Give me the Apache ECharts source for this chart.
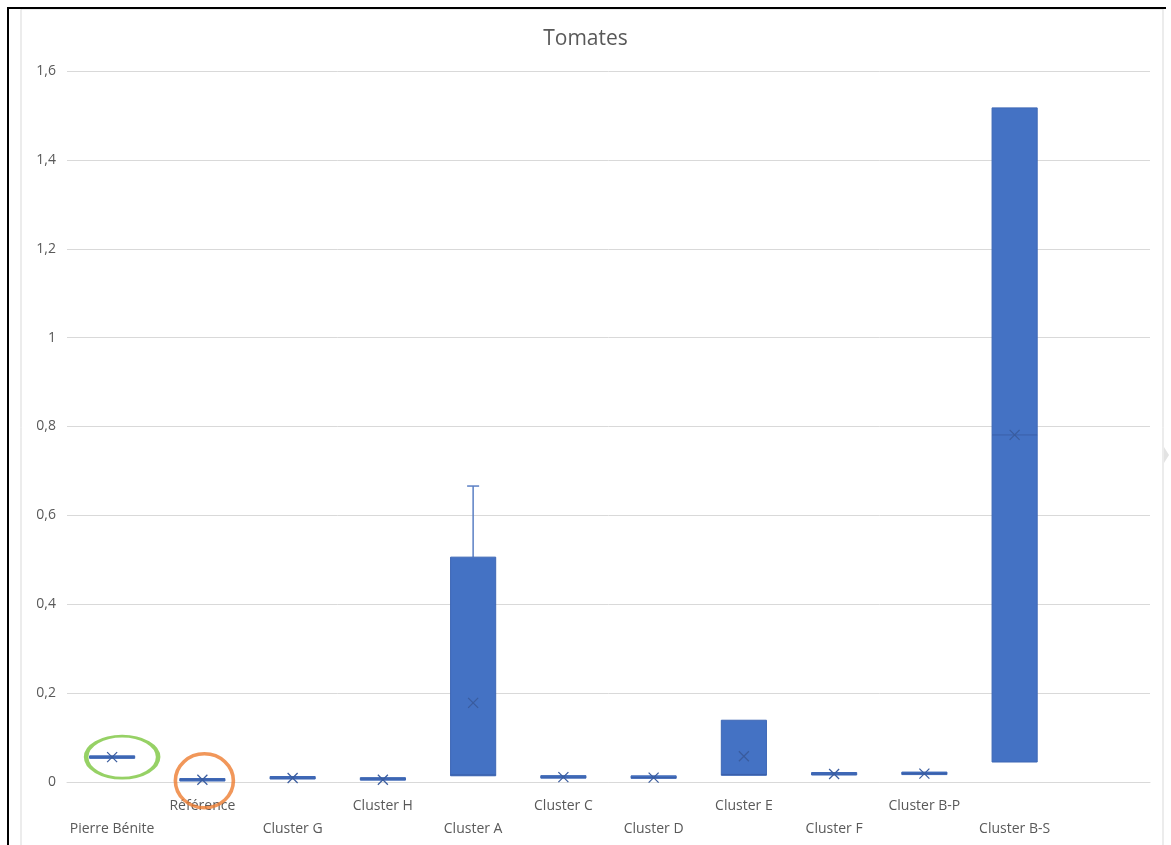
<!DOCTYPE html>
<html>
<head>
<meta charset="utf-8">
<script src="https://cdn.jsdelivr.net/npm/echarts@6/dist/echarts.min.js"></script>
<style>
  html, body { margin: 0; padding: 0; background: #fff; }
  #main { width: 1171px; height: 845px; }
</style>
</head>
<body>
<div id="main"></div>
<script>
// categories (last slot is empty in the original chart)
var categories = ['Pierre Bénite', 'Référence', 'Cluster G', 'Cluster H', 'Cluster A', 'Cluster C',
                  'Cluster D', 'Cluster E', 'Cluster F', 'Cluster B-P', 'Cluster B-S', ''];
var minVals    = [0.055, 0.004, 0.007, 0.004, 0.013, 0.009, 0.008, 0.014, 0.016, 0.016, 0.045];
var q1Vals     = [0.055, 0.004, 0.008, 0.005, 0.014, 0.010, 0.009, 0.015, 0.017, 0.017, 0.045];
var medianVals = [0.056, 0.005, 0.009, 0.007, 0.016, 0.011, 0.010, 0.017, 0.018, 0.019, 0.781];
var q3Vals     = [0.057, 0.006, 0.011, 0.009, 0.506, 0.013, 0.013, 0.139, 0.020, 0.022, 1.517];
var maxVals    = [0.057, 0.006, 0.011, 0.009, 0.666, 0.013, 0.013, 0.139, 0.020, 0.022, 1.517];
var meanVals   = [0.056, 0.005, 0.009, 0.005, 0.178, 0.011, 0.010, 0.058, 0.018, 0.019, 0.781];
var yTicks = [0, 0.2, 0.4, 0.6, 0.8, 1, 1.2, 1.4, 1.6];

// hand-drawn highlight ellipses: [category index, value]
var greenMark = [0, 0.056];
var orangeMark = [1, 0.005];

var boxData = minVals.map(function (v, i) {
  return [i, minVals[i], q1Vals[i], medianVals[i], q3Vals[i], maxVals[i], meanVals[i]];
});

var chart = echarts.init(document.getElementById('main'));

function renderBox(params, api) {
  var idx = api.value(0);
  var pMin = api.coord([idx, api.value(1)]);
  var pQ1 = api.coord([idx, api.value(2)]);
  var pMed = api.coord([idx, api.value(3)]);
  var pQ3 = api.coord([idx, api.value(4)]);
  var pMax = api.coord([idx, api.value(5)]);
  var pMean = api.coord([idx, api.value(6)]);
  var w = api.size([1, 0])[0] * 0.5;
  var x = pQ1[0];
  var top = pQ3[1], bot = pQ1[1];
  if (bot - top < 2.5) { var c = (top + bot) / 2; top = c - 1.25; bot = c + 1.25; }
  var kids = [];
  var cap = 6;
  if (pMax[1] < pQ3[1] - 1) {
    kids.push({ type: 'line', shape: { x1: x, y1: pQ3[1], x2: x, y2: pMax[1] }, style: { stroke: '#5b7fc4', lineWidth: 1.5 } });
    kids.push({ type: 'line', shape: { x1: x - cap, y1: pMax[1], x2: x + cap, y2: pMax[1] }, style: { stroke: '#5b7fc4', lineWidth: 1.5 } });
  }
  if (pMin[1] > pQ1[1] + 1) {
    kids.push({ type: 'line', shape: { x1: x, y1: pQ1[1], x2: x, y2: pMin[1] }, style: { stroke: '#5b7fc4', lineWidth: 1.5 } });
    kids.push({ type: 'line', shape: { x1: x - cap, y1: pMin[1], x2: x + cap, y2: pMin[1] }, style: { stroke: '#5b7fc4', lineWidth: 1.5 } });
  }
  kids.push({ type: 'rect', shape: { x: x - w / 2, y: top, width: w, height: bot - top },
              style: { fill: '#4472c4', stroke: '#3d67b5', lineWidth: 1 } });
  kids.push({ type: 'line', shape: { x1: x - w / 2, y1: pMed[1], x2: x + w / 2, y2: pMed[1] },
              style: { stroke: '#3a5fa8', lineWidth: 1 } });
  var s = 5;
  kids.push({ type: 'polyline', shape: { points: [[pMean[0] - s, pMean[1] - s], [pMean[0] + s, pMean[1] + s]] },
              style: { stroke: '#3a5c9e', lineWidth: 1.2, fill: null } });
  kids.push({ type: 'polyline', shape: { points: [[pMean[0] + s, pMean[1] - s], [pMean[0] - s, pMean[1] + s]] },
              style: { stroke: '#3a5c9e', lineWidth: 1.2, fill: null } });
  return { type: 'group', children: kids };
}

chart.setOption({
  backgroundColor: '#fff',
  animation: false,
  title: {
    text: 'Tomates',
    left: 'center',
    top: 24,
    textStyle: { color: '#595959', fontSize: 21, fontWeight: 'normal', fontFamily: 'Open Sans' }
  },
  grid: { left: 67, right: 21, top: 71, bottom: 63 },
  xAxis: {
    type: 'category',
    data: categories,
    boundaryGap: true,
    axisLine: { show: true, lineStyle: { color: '#d9d9d9', width: 1 } },
    axisTick: { show: false },
    splitLine: { show: false },
    axisLabel: {
      interval: 0,
      margin: 13,
      color: '#595959',
      fontSize: 14,
      fontFamily: 'Open Sans',
      lineHeight: 23,
      formatter: function (v, i) { return i % 2 === 0 ? '\n' + v : v; }
    }
  },
  yAxis: {
    type: 'value',
    min: 0,
    max: yTicks[yTicks.length - 1],
    interval: 0.2,
    axisLine: { show: false },
    axisTick: { show: false },
    splitLine: { lineStyle: { color: '#d9d9d9', width: 1 } },
    axisLabel: {
      margin: 11,
      color: '#595959',
      fontSize: 14,
      fontFamily: 'Open Sans',
      formatter: function (v) { return String(Math.round(v * 10) / 10).replace('.', ','); }
    }
  },
  series: [
    {
      type: 'custom',
      renderItem: renderBox,
      encode: { x: 0, y: [1, 2, 3, 4, 5, 6] },
      data: boxData,
      z: 2
    },
    {
      type: 'scatter',
      symbol: 'circle',
      symbolSize: [72, 42],
      symbolOffset: [10, 0],
      itemStyle: { color: 'rgba(0,0,0,0)', borderColor: '#7cc63e', borderWidth: 3.5 },
      data: [greenMark],
      z: 3,
      silent: true
    },
    {
      type: 'scatter',
      symbol: 'circle',
      symbolSize: [58, 54],
      symbolOffset: [2, 1],
      itemStyle: { color: 'rgba(0,0,0,0)', borderColor: '#ed7d31', borderWidth: 3.5 },
      data: [orangeMark],
      z: 3,
      silent: true
    }
  ],
  graphic: [
    { type: 'rect', shape: { x: 21, y: 9, width: 1142, height: 845 }, style: { fill: null, stroke: '#d9d9d9', lineWidth: 1 }, silent: true, z: -1 },
    { type: 'line', shape: { x1: 8, y1: 8, x2: 8, y2: 845 }, style: { stroke: '#000', lineWidth: 2 }, silent: true },
    { type: 'line', shape: { x1: 7, y1: 8, x2: 1166, y2: 8 }, style: { stroke: '#000', lineWidth: 2 }, silent: true },
    { type: 'polygon', shape: { points: [[1164, 447], [1169, 455], [1164, 463]] }, style: { fill: '#e3e3e3' }, silent: true }
  ]
});
</script>
</body>
</html>
